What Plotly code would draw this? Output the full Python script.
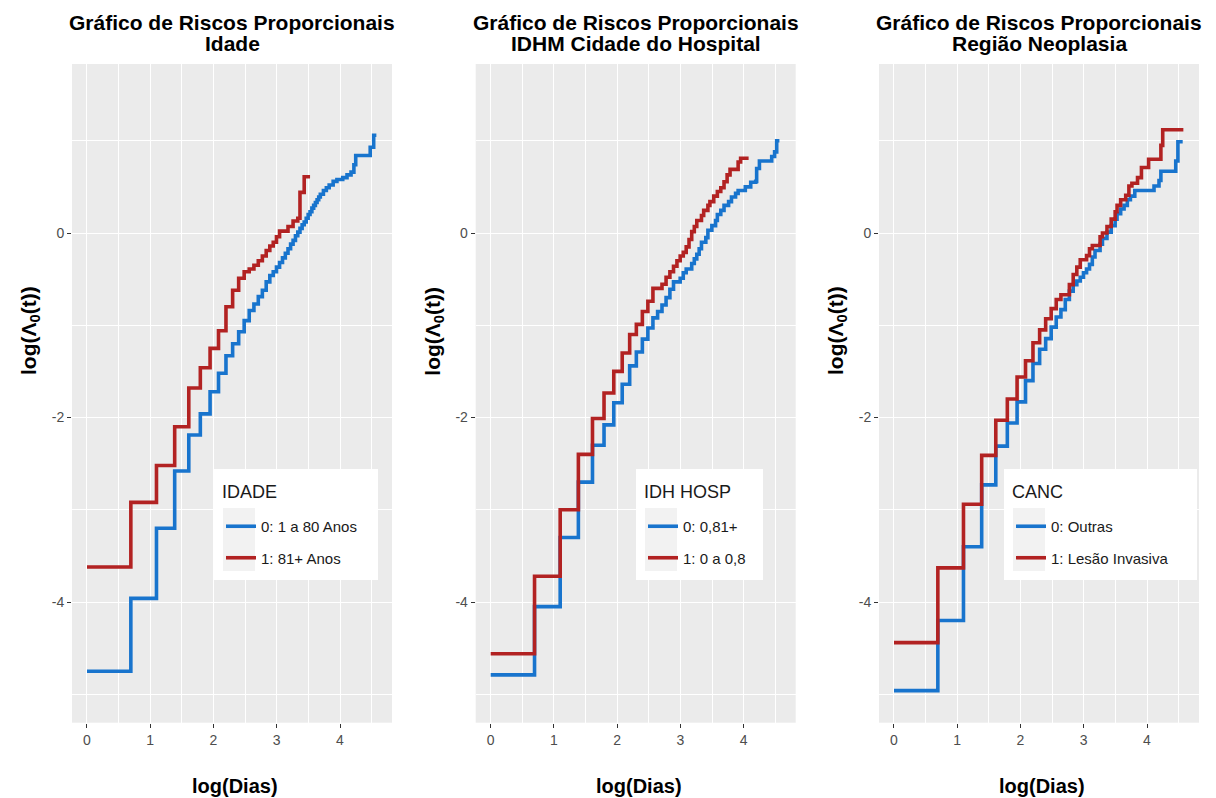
import numpy as np
import plotly.graph_objects as go

# ---------------- DATA ----------------
# Panel 1: IDADE
idade_dias_0 = [1, 2, 3, 4, 5, 6, 7, 8, 9, 10, 11, 12, 13, 14, 15, 16, 17, 18, 19, 20,
                21, 22, 23, 24, 25, 26, 27, 28, 29, 30, 31, 32, 33, 34, 35, 36, 37, 38,
                39, 40, 42, 44, 46, 49, 52, 57, 61, 65, 68, 70, 88, 93, 97]
idade_haz_0 = [-4.75, -3.96, -3.20, -2.58, -2.19, -1.96, -1.72, -1.52, -1.33, -1.20,
               -1.07, -0.95, -0.84, -0.77, -0.69, -0.62, -0.53, -0.46, -0.42, -0.37,
               -0.32, -0.27, -0.22, -0.17, -0.12, -0.08, -0.03, 0.01, 0.05, 0.09,
               0.12, 0.16, 0.20, 0.23, 0.27, 0.30, 0.33, 0.36, 0.39, 0.42, 0.46,
               0.49, 0.52, 0.56, 0.58, 0.60, 0.63, 0.66, 0.74, 0.84, 0.93, 1.06, 1.06]
idade_dias_1 = [1, 2, 3, 4, 5, 6, 7, 8, 9, 10, 11, 12, 13, 14, 15, 16, 17, 18, 19, 20,
                21, 24, 26, 28, 29, 31, 34]
idade_haz_1 = [-3.62, -2.92, -2.52, -2.10, -1.68, -1.46, -1.25, -1.06, -0.80, -0.62,
               -0.49, -0.42, -0.39, -0.35, -0.30, -0.25, -0.19, -0.14, -0.10, -0.04,
               0.02, 0.07, 0.13, 0.16, 0.44, 0.61, 0.61]

# Panel 2: IDH HOSP
idh_dias_0 = [1, 2, 3, 4, 5, 6, 7, 8, 9, 10, 11, 12, 13, 14, 15, 16, 17, 18, 20, 21,
              22, 24, 25, 26, 27, 28, 30, 31, 33, 35, 36, 38, 40, 43, 45, 48, 50, 56,
              61, 66, 67, 70, 85, 89, 92, 96]
idh_haz_0 = [-4.79, -4.05, -3.30, -2.70, -2.30, -2.08, -1.84, -1.64, -1.44, -1.29,
             -1.15, -1.03, -0.92, -0.85, -0.78, -0.70, -0.61, -0.53, -0.49, -0.43,
             -0.39, -0.33, -0.28, -0.23, -0.17, -0.10, -0.05, 0.03, 0.08, 0.135,
             0.20, 0.245, 0.30, 0.34, 0.39, 0.43, 0.46, 0.50, 0.55, 0.56, 0.70,
             0.78, 0.83, 0.88, 1.00, 1.00]
idh_dias_1 = [1, 2, 3, 4, 5, 6, 7, 8, 9, 10, 11, 12, 13, 15, 16, 17, 18, 19, 20, 21,
              22, 23, 24, 25, 26, 28, 29, 31, 32, 34, 36, 38, 40, 42, 44, 50, 52, 59]
idh_haz_1 = [-4.56, -3.72, -3.00, -2.40, -2.01, -1.735, -1.50, -1.30, -1.10, -0.99,
             -0.85, -0.74, -0.60, -0.555, -0.48, -0.42, -0.36, -0.30, -0.25, -0.21,
             -0.15, -0.07, 0.015, 0.07, 0.135, 0.19, 0.245, 0.30, 0.34, 0.40, 0.45,
             0.49, 0.555, 0.63, 0.69, 0.77, 0.81, 0.81]

# Panel 3: CANC
canc_dias_0 = [1, 2, 3, 4, 5, 6, 7, 8, 9, 10, 11, 12, 13, 14, 15, 16, 17, 18, 19, 20,
               21, 22, 23, 24, 26, 27, 29, 31, 33, 34, 36, 38, 40, 42, 45, 61, 66, 68,
               86, 89, 96]
canc_haz_0 = [-4.96, -4.20, -3.40, -2.73, -2.31, -2.06, -1.83, -1.60, -1.415, -1.26,
              -1.145, -1.02, -0.91, -0.83, -0.72, -0.63, -0.56, -0.52, -0.48, -0.43,
              -0.39, -0.34, -0.26, -0.19, -0.12, -0.06, 0.01, 0.08, 0.15, 0.21, 0.26,
              0.30, 0.36, 0.40, 0.46, 0.51, 0.57, 0.67, 0.78, 0.99, 0.99]
canc_dias_1 = [1, 2, 3, 4, 5, 6, 7, 8, 9, 10, 11, 12, 13, 14, 16, 17, 18, 19, 21, 22,
               23, 26, 27, 29, 31, 33, 34, 36, 39, 41, 43, 47, 50, 56, 68, 70, 97]
canc_haz_1 = [-4.44, -3.63, -2.94, -2.41, -2.03, -1.80, -1.56, -1.385, -1.19, -1.05,
              -0.93, -0.82, -0.72, -0.67, -0.56, -0.45, -0.37, -0.29, -0.245, -0.17,
              -0.135, -0.04, 0.00, 0.07, 0.15, 0.23, 0.30, 0.36, 0.41, 0.51, 0.54,
              0.60, 0.71, 0.80, 0.95, 1.12, 1.12]

titulo_linha1 = "Gráfico de Riscos Proporcionais"
titulos_linha2 = ["Idade", "IDHM Cidade do Hospital", "Região Neoplasia"]
legenda_titulos = ["IDADE", "IDH HOSP", "CANC"]
legenda_0 = ["0: 1 a 80 Anos", "0: 0,81+", "0: Outras"]
legenda_1 = ["1: 81+ Anos", "1: 0 a 0,8", "1: Lesão Invasiva"]
x_ticks = [0, 1, 2, 3, 4]
y_ticks = [-4, -2, 0]
y_ticktext = ["-4", "-2", "0"]

series = [
    (idade_dias_0, idade_haz_0, idade_dias_1, idade_haz_1),
    (idh_dias_0, idh_haz_0, idh_dias_1, idh_haz_1),
    (canc_dias_0, canc_haz_0, canc_dias_1, canc_haz_1),
]

# ---------------- STYLE / LAYOUT ----------------
W, H = 1216, 798
AZUL = "#1874CD"
VERMELHO = "#B22222"
FONT = "Liberation Sans, Arial, sans-serif"


def px(x):
    return x / W


def py(y):
    return 1 - y / H


panel_px = [(72, 392), (475.7, 795.7), (879, 1199)]
top_px, bot_px = 64, 722.7
x_range = [-0.237, 4.822]
y_range = [-5.308, 1.832]
legend_box = [(214, 469, 378, 580), (636, 469, 763, 580), (1004, 469, 1197, 580)]

fig = go.Figure()
annotations = []
shapes = []
for i, (d0, h0, d1, h1) in enumerate(series):
    sfx = "" if i == 0 else str(i + 1)
    leg = "legend" + sfx
    fig.add_trace(go.Scatter(
        x=np.log(d0), y=h0, mode="lines", line=dict(color=AZUL, width=3.6, shape="hv"),
        name=legenda_0[i], xaxis="x" + sfx, yaxis="y" + sfx, legend=leg,
        legendgroup=f"g{i}a", hoverinfo="skip"))
    fig.add_trace(go.Scatter(
        x=np.log(d1), y=h1, mode="lines", line=dict(color=VERMELHO, width=3.6, shape="hv"),
        name=legenda_1[i], xaxis="x" + sfx, yaxis="y" + sfx, legend=leg,
        legendgroup=f"g{i}b", hoverinfo="skip"))

    x0, x1 = panel_px[i]
    axis_common = dict(showline=False, zeroline=False, ticks="outside", ticklen=4,
                       tickwidth=1, tickcolor="#333333", gridcolor="white",
                       gridwidth=1.1, tickfont=dict(family=FONT, size=14, color="#4D4D4D"))
    fig.layout["xaxis" + sfx] = dict(
        domain=[px(x0), px(x1)], range=x_range, anchor="y" + sfx,
        tickvals=x_ticks, ticktext=[str(v) for v in x_ticks],
        minor=dict(showgrid=True, gridcolor="white", gridwidth=0.5,
                   tickvals=[-0.5, 0.5, 1.5, 2.5, 3.5, 4.5]),
        **axis_common)
    fig.layout["yaxis" + sfx] = dict(
        domain=[py(bot_px), py(top_px)], range=y_range, anchor="x" + sfx,
        tickvals=y_ticks, ticktext=y_ticktext,
        minor=dict(showgrid=True, gridcolor="white", gridwidth=0.5,
                   tickvals=[-5, -3, -1, 1]),
        **axis_common)

    # legend box (white) and key background (light grey)
    bx0, by0, bx1, by1 = legend_box[i]
    shapes.append(dict(type="rect", xref="paper", yref="paper",
                       x0=px(bx0), x1=px(bx1), y0=py(by1), y1=py(by0),
                       fillcolor="white", line=dict(width=0), layer="above"))
    shapes.append(dict(type="rect", xref="paper", yref="paper",
                       x0=px(bx0 + 9), x1=px(bx0 + 41), y0=py(by1 - 9), y1=py(by0 + 39),
                       fillcolor="#F2F2F2", line=dict(width=0), layer="above"))
    annotations.append(dict(
        text=legenda_titulos[i], x=px(bx0 + 6), y=py(by0 + 23), xref="paper",
        yref="paper", xanchor="left", yanchor="middle", showarrow=False,
        font=dict(family=FONT, size=18, color="#1A1A1A")))

    fig.layout[leg] = dict(
        x=px(bx0 + 7), y=py(by0 + 41), xanchor="left", yanchor="top",
        bgcolor="rgba(0,0,0,0)", borderwidth=0, traceorder="grouped",
        tracegroupgap=9,
        font=dict(family=FONT, size=15, color="#1A1A1A"), itemwidth=30)

    cx = px((x0 + x1) / 2)
    annotations.append(dict(
        text="<b>" + titulo_linha1 + "</b>", x=cx, y=py(22), xref="paper", yref="paper",
        xanchor="center", yanchor="middle", showarrow=False,
        font=dict(family=FONT, size=21, color="black")))
    annotations.append(dict(
        text="<b>" + titulos_linha2[i] + "</b>", x=cx, y=py(43.5), xref="paper",
        yref="paper", xanchor="center", yanchor="middle", showarrow=False,
        font=dict(family=FONT, size=21, color="black")))
    annotations.append(dict(
        text="<b>log(Dias)</b>", x=cx + px(3), y=py(786), xref="paper", yref="paper",
        xanchor="center", yanchor="middle", showarrow=False,
        font=dict(family=FONT, size=20, color="black")))
    annotations.append(dict(
        text="<b>log(Λ<sub>0</sub>(t))</b>", x=px(x0 - 42), y=py(331),
        xref="paper", yref="paper", xanchor="center", yanchor="middle",
        textangle=-90, showarrow=False,
        font=dict(family=FONT, size=21, color="black")))

fig.update_layout(
    width=W, height=H, margin=dict(l=0, r=0, t=0, b=0),
    paper_bgcolor="white", plot_bgcolor="#EBEBEB",
    annotations=annotations, shapes=shapes, showlegend=True,
    font=dict(family=FONT),
)

fig.write_html("out.html", config={"displayModeBar": False},
               post_script="document.body.style.margin='0';document.body.style.padding='0';")
